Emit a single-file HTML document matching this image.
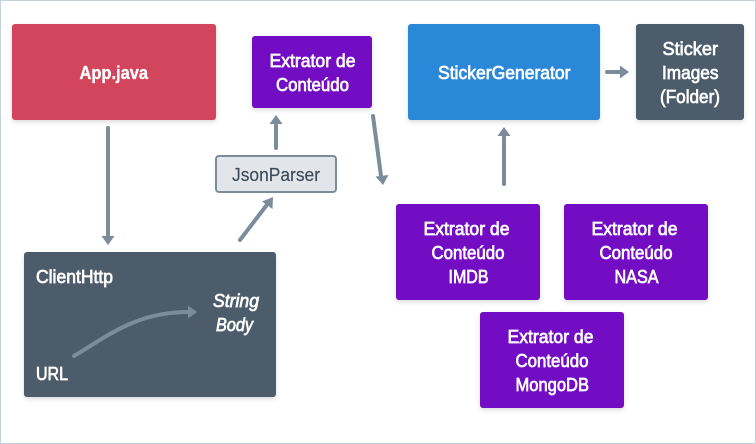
<!DOCTYPE html>
<html lang="pt">
<head>
<meta charset="utf-8">
<title>Diagrama</title>
<style>
html,body{margin:0;padding:0;background:#fff;width:756px;height:444px;overflow:hidden}
svg{display:block}
text{font-family:"Liberation Sans",sans-serif;font-size:18px;font-weight:400;fill:#fff;stroke:#fff;stroke-width:.7px}
text.b{font-weight:700;stroke-width:.35px}
text.j{fill:#3d4a57;stroke:#3d4a57;stroke-width:.15px}
</style>
</head>
<body>
<svg width="756" height="444" viewBox="0 0 756 444" xmlns="http://www.w3.org/2000/svg">
<defs>
<filter id="s" x="-15%" y="-15%" width="130%" height="135%">
<feDropShadow dx="0" dy="2" stdDeviation="2.500" flood-color="#000" flood-opacity=".14"/>
</filter>
</defs>
<rect x=".5" y=".5" width="755" height="443" fill="#fff" stroke="#c3d1dc" stroke-width="1"/>

<g filter="url(#s)">
<rect x="12" y="24" width="204" height="96" rx="3" fill="#d2455b"/>
<rect x="252" y="36" width="120" height="72" rx="3" fill="#730fc3"/>
<rect x="408" y="24" width="192" height="96" rx="3" fill="#2b88d8"/>
<rect x="636" y="24" width="108" height="96" rx="3" fill="#4d5c6b"/>
<rect x="24" y="252" width="252" height="145" rx="3" fill="#4d5c6b"/>
<rect x="396" y="204" width="144" height="96" rx="3" fill="#730fc3"/>
<rect x="564" y="204" width="144" height="96" rx="3" fill="#730fc3"/>
<rect x="480" y="312" width="144" height="96" rx="3" fill="#730fc3"/>
</g>
<rect x="216" y="156" width="120" height="36" rx="3" fill="#e2e6ea" stroke="#7d8c9b" stroke-width="2"/>

<g fill="none" stroke="#7d8c9b" stroke-width="4" stroke-linecap="round">
<path d="M108 128V237"/>
<path d="M276 125V148"/>
<path d="M373 116L381 176"/>
<path d="M240 240L266 206"/>
<path d="M504 137V184"/>
<path d="M607 72H621"/>
<path d="M74 356C112 333 138 312 189 312"/>
</g>
<g fill="#7d8c9b">
<path d="M101.500 236H114.500L108 245Z"/>
<path d="M269.500 124H282.500L276 115Z"/>
<path d="M375.500 176.500L388.500 175L383 185Z"/>
<path d="M262 201.500L272.500 209L273 197Z"/>
<path d="M497.500 136H510.500L504 127Z"/>
<path d="M620 65.500V78.500L629 72Z"/>
<path d="M188 305.500V318.500L197 312Z"/>
</g>

<text class="b" x="79.500" y="79" textLength="68.500" lengthAdjust="spacingAndGlyphs">App.java</text>
<text x="269.500" y="67" textLength="86" lengthAdjust="spacingAndGlyphs">Extrator de</text>
<text x="276" y="91" textLength="73" lengthAdjust="spacingAndGlyphs">Conteúdo</text>
<text class="j" x="232" y="181" textLength="88" lengthAdjust="spacingAndGlyphs">JsonParser</text>
<text x="438" y="79" textLength="132.500" lengthAdjust="spacingAndGlyphs">StickerGenerator</text>
<text x="662.500" y="55" textLength="55.500" lengthAdjust="spacingAndGlyphs">Sticker</text>
<text x="662" y="79" textLength="56.500" lengthAdjust="spacingAndGlyphs">Images</text>
<text x="660" y="103" textLength="60" lengthAdjust="spacingAndGlyphs">(Folder)</text>

<text x="36" y="283" textLength="77" lengthAdjust="spacingAndGlyphs">ClientHttp</text>
<text x="36" y="380" textLength="32" lengthAdjust="spacingAndGlyphs">URL</text>
<text x="213" y="307" textLength="46" lengthAdjust="spacingAndGlyphs" font-style="italic">String</text>
<text x="216" y="331" textLength="37" lengthAdjust="spacingAndGlyphs" font-style="italic">Body</text>

<text x="423.500" y="235" textLength="86" lengthAdjust="spacingAndGlyphs">Extrator de</text>
<text x="431.500" y="259" textLength="73" lengthAdjust="spacingAndGlyphs">Conteúdo</text>
<text x="448.500" y="283" textLength="40" lengthAdjust="spacingAndGlyphs">IMDB</text>

<text x="591.500" y="235" textLength="86" lengthAdjust="spacingAndGlyphs">Extrator de</text>
<text x="599.500" y="259" textLength="73" lengthAdjust="spacingAndGlyphs">Conteúdo</text>
<text x="614.500" y="283" textLength="44" lengthAdjust="spacingAndGlyphs">NASA</text>

<text x="507.500" y="343" textLength="86" lengthAdjust="spacingAndGlyphs">Extrator de</text>
<text x="515.500" y="367" textLength="73" lengthAdjust="spacingAndGlyphs">Conteúdo</text>
<text x="515.500" y="391" textLength="73.500" lengthAdjust="spacingAndGlyphs">MongoDB</text>
</svg>
</body>
</html>
